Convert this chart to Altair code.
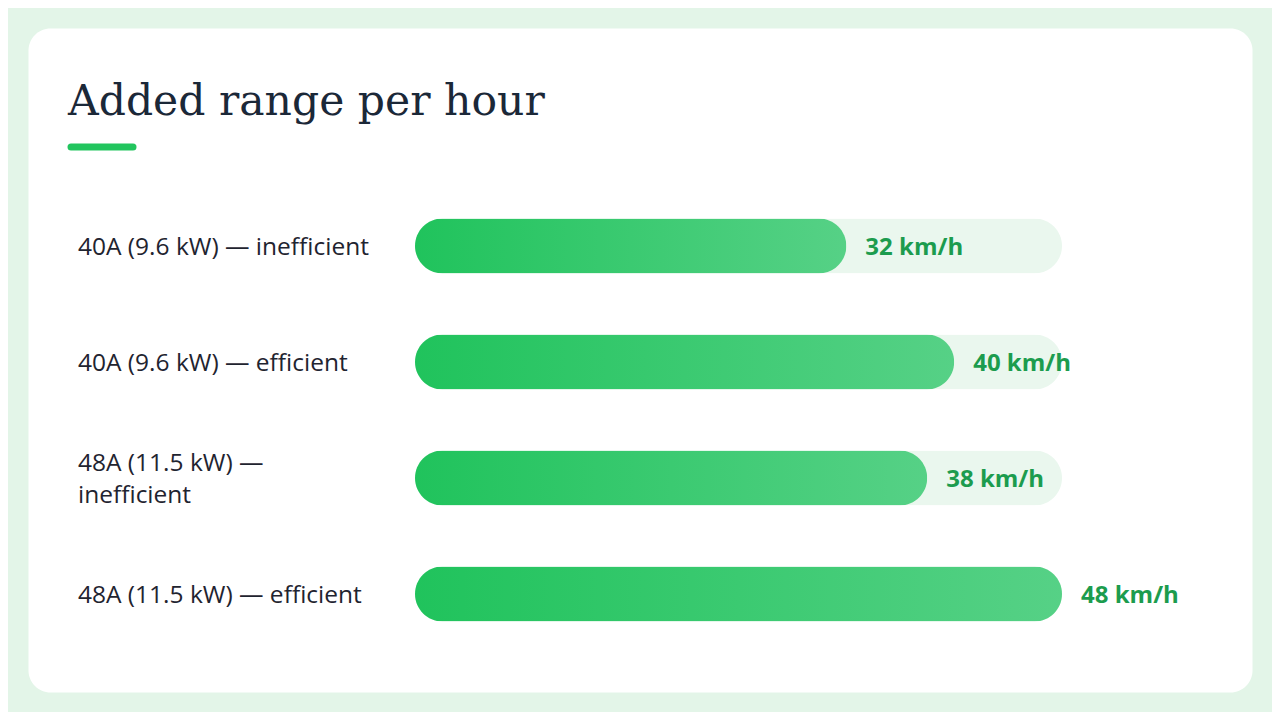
import altair as alt
import pandas as pd

TITLE = "Added range per hour"
labels = ["40A (9.6 kW) — inefficient", "40A (9.6 kW) — efficient",
          "48A (11.5 kW) —\ninefficient", "48A (11.5 kW) — efficient"]
values = [32, 40, 38, 48]
unit = "km/h"

LINE_H = 32
df = pd.DataFrame({
    "label": labels,
    "value": values,
    "max": [max(values)] * len(values),
    "vlabel": [f"{v} {unit}" for v in values],
    "lines": [l.count("\n") + 1 for l in labels],
})

W, H = 1224, 664
xscale = alt.Scale(domain=[0, max(values)], range=[387, 1034])
yscale = alt.Scale(domain=labels, range=[160, 624], paddingInner=0.526, paddingOuter=0.263)

base = alt.Chart(df)
Y = alt.Y("label:N", scale=yscale, axis=None, sort=labels)

track = base.mark_bar(color="#eaf7ee", cornerRadius=27.5).encode(
    x=alt.X("max:Q", scale=xscale, axis=None), y=Y)

grad = {"gradient": "linear", "x1": 0, "x2": 1, "y1": 0, "y2": 0,
        "stops": [{"offset": 0, "color": "#20c35c"}, {"offset": 1, "color": "#56d186"}]}
bars = base.mark_bar(color=grad, cornerRadius=27.5).encode(
    x=alt.X("value:Q", scale=xscale, axis=None), y=Y)

vtext = base.mark_text(align="left", baseline="middle", dx=19, dy=2, font="Open Sans",
                       fontSize=24, fontWeight="bold", color="#1c9c4e").encode(
    x=alt.X("value:Q", scale=xscale, axis=None), y=Y, text="vlabel:N")

label_style = dict(align="left", baseline="middle", font="Open Sans", fontSize=24.5,
                   color="#1f2430", lineBreak="\n", lineHeight=LINE_H)
ltext1 = base.transform_filter("datum.lines == 1").mark_text(dy=2, **label_style).encode(
    x=alt.value(50), y=Y, text="label:N")
ltext2 = base.transform_filter("datum.lines == 2").mark_text(dy=2 - LINE_H / 2, **label_style).encode(
    x=alt.value(50), y=Y, text="label:N")

title = alt.Chart(pd.DataFrame({"t": [TITLE]})).mark_text(
    align="left", baseline="alphabetic", font="DejaVu Serif", fontSize=42.5,
    color="#1b2838").encode(x=alt.value(40), y=alt.value(87), text="t:N")

accent = alt.Chart(pd.DataFrame({"t": [TITLE]})).mark_rule(
    color="#22c55e", strokeWidth=7, strokeCap="round").encode(
    x=alt.value(43), x2=alt.value(105), y=alt.value(119))

chart = alt.layer(track, bars, vtext, ltext1, ltext2, title, accent).properties(
    width=W, height=H,
    padding={"left": 20, "top": 20, "right": 20, "bottom": 20},
    background="#e3f5e8",
).configure_view(fill="white", stroke="transparent", cornerRadius=22)

chart.save("out.html", embed_options={"renderer": "svg", "actions": False})
